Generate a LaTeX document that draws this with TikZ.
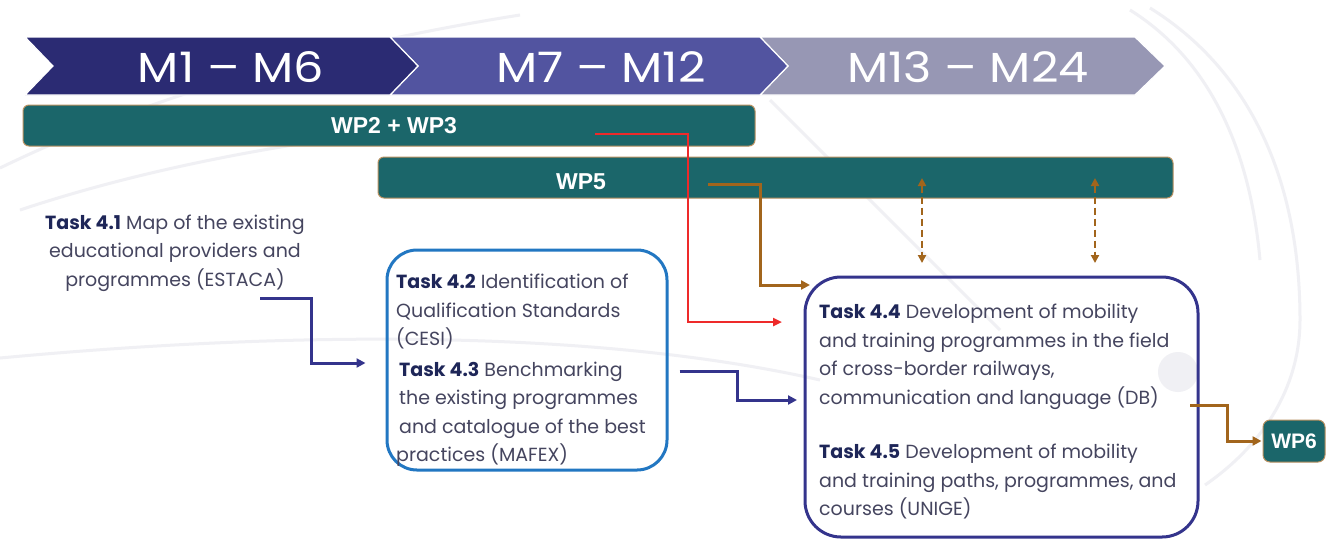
\documentclass[tikz,border=0pt]{standalone}
\usepackage{fontspec}
\setmainfont{Poppins}
\newfontfamily\barfont{Liberation Sans}
\usetikzlibrary{arrows.meta,calc}

\definecolor{navyA}{HTML}{2B2B73}
\definecolor{navyB}{HTML}{5254A0}
\definecolor{navyC}{HTML}{9797B4}
\definecolor{tealbar}{HTML}{1B666A}
\definecolor{tanrim}{HTML}{B89060}
\definecolor{redline}{HTML}{EE2A2A}
\definecolor{brownline}{HTML}{A2651C}
\definecolor{arrowblue}{HTML}{34348C}
\definecolor{boxblue}{HTML}{2277C2}
\definecolor{taskhead}{HTML}{1E2658}
\definecolor{tasktext}{HTML}{45455F}
\definecolor{swoosh}{HTML}{F0F0F4}

\tikzset{
  chevron/.style={draw=white, line width=1.2pt, line join=miter},
  mlabel/.style={text=white, font=\fontsize{42}{46}\selectfont, inner sep=0pt},
  wpbar/.style={draw=tanrim, line width=1pt, fill=tealbar, rounded corners=6pt,
    inner sep=0pt, text=white, font=\barfont\bfseries\fontsize{23}{26}\selectfont},
  wplabel/.style={text=white, font=\barfont\bfseries\fontsize{23}{26}\selectfont, inner sep=0pt},
  taskbox/.style={line width=3pt, rounded corners=30pt, inner sep=0pt},
  tasktxt/.style={text=tasktext, font=\fontsize{19}{28.5}\selectfont, inner sep=0pt, align=left},
  tasktxtc/.style={tasktxt, align=center},
  navyflow/.style={draw=arrowblue, line width=3pt, -{Triangle[length=9pt,width=9pt]}},
  redflow/.style={draw=redline, line width=2.5pt, -{Triangle[length=9pt,width=8pt]}},
  brownflow/.style={draw=brownline, line width=3pt, -{Triangle[length=9pt,width=9pt]}},
  dashflow/.style={draw=brownline, line width=2.6pt, dash pattern=on 7pt off 4pt,
    {Triangle[length=8pt,width=8pt]}-{Triangle[length=8pt,width=8pt]}},
}
\newcommand{\taskhd}[1]{\textcolor{taskhead}{\bfseries #1}}
\newcommand{\widetext}[1]{\scalebox{1.14}[1]{#1}}

\begin{document}
\begin{tikzpicture}[x=1pt,y=-1pt]
\useasboundingbox[fill=white] (0,0) rectangle (1338,550);

% faint background swooshes
\begin{scope}[draw=swoosh, line width=3pt]
  \draw (0,168) .. controls (150,95) and (330,45) .. (520,15);
  \draw (20,210) .. controls (200,150) and (420,120) .. (640,112);
  \draw (0,358) .. controls (300,330) and (600,330) .. (820,380);
  \draw (770,100) -- (1000,330);
  \draw (1130,10) .. controls (1210,60) and (1250,150) .. (1260,260);
  \draw (1150,8) .. controls (1250,70) and (1300,180) .. (1300,320);
  \draw (1205,485) .. controls (1270,440) and (1300,380) .. (1300,320);
  \fill[swoosh] (1178,372) circle (20);
\end{scope}

% timeline chevrons
\fill[navyC, chevron] (760,37) -- (1135,37) -- (1165,66) -- (1135,95) -- (760,95) -- (788,66) -- cycle;
\fill[navyB, chevron] (390,37) -- (760,37) -- (788,66) -- (760,95) -- (390,95) -- (418,66) -- cycle;
\fill[navyA, chevron] (25,37) -- (390,37) -- (418,66) -- (390,95) -- (25,95) -- (53,66) -- cycle;
\node[mlabel] (m1) at (231,67) {\widetext{M1 – M6}};
\node[mlabel] (m2) at (601,67) {\widetext{M7 – M12}};
\node[mlabel] (m3) at (968,67) {\widetext{M13 – M24}};

% work package bars
\node[wpbar, minimum width=732pt, minimum height=41pt] (wp23) at (389,125.5) {\hspace*{10pt}WP2 + WP3};
\node[wpbar, minimum width=795pt, minimum height=41pt] (wp5) at (775.5,177.5) {};
\node[wplabel] (wp5t) at (581,182) {WP5};

% task 4.1
\node[tasktxtc] (t41) at (175,253) {\taskhd{Task 4.1} Map of the existing\\educational providers and\\programmes (ESTACA)};

% task 4.2 / 4.3 box
\node[taskbox, draw=boxblue, minimum width=280pt, minimum height=220pt] (b23) at (527,360) {};
\node[tasktxt, anchor=north west] (t42) at (396,274) {\taskhd{Task 4.2} Identification of\\Qualification Standards\\(CESI)\\[2pt]\hspace*{3pt}\taskhd{Task 4.3} Benchmarking\\\hspace*{3pt}the existing programmes\\\hspace*{3pt}and catalogue of the best\\practices (MAFEX)};

% task 4.4 / 4.5 box
\node[taskbox, draw=arrowblue, rounded corners=36pt, minimum width=393pt, minimum height=260pt] (b45) at (1001.5,407) {};
\node[tasktxt, anchor=north west] (t44) at (819,304) {\taskhd{Task 4.4} Development of mobility\\and training programmes in the field\\of cross-border railways,\\communication and language (DB)};
\node[tasktxt, anchor=north west] (t45) at (819,444) {\taskhd{Task 4.5} Development of mobility\\and training paths, programmes, and\\courses (UNIGE)};

% WP6
\node[wpbar, rounded corners=7pt, minimum width=62pt, minimum height=42pt, font=\barfont\bfseries\fontsize{21}{24}\selectfont] (wp6) at (1294,441) {WP6};

% connector ends
\coordinate (a1s) at (260,298);
\coordinate (a1e) at ([xshift=-20pt,yshift=-3pt]b23.west);
\coordinate (a2s) at ([xshift=11pt,yshift=-11pt]b23.east);
\coordinate (a2e) at (797,400);
\coordinate (rs)  at (595,134);
\coordinate (re)  at (782,322);
\coordinate (bs)  at (708,184);
\coordinate (be)  at (810,285);
\coordinate (ws)  at (1190,405);
\coordinate (we)  at ([xshift=-1pt]wp6.west);

% flows
\draw[navyflow] (a1s) -| ($(a1e)+(-54,0)$) -- (a1e);
\draw[navyflow] (a2s) -| ($(a2e)+(-60,0)$) -- (a2e);
\draw[redflow] (rs) -| ($(re)+(-94,0)$) -- (re);
\draw[brownflow] (bs) -| ($(be)+(-50,0)$) -- (be);
\draw[brownflow] (ws) -| ($(we)+(-34,0)$) -- (we);
\draw[dashflow] (922,178) -- (922,263);
\draw[dashflow] (1095,178) -- (1095,263);
\end{tikzpicture}
\end{document}
